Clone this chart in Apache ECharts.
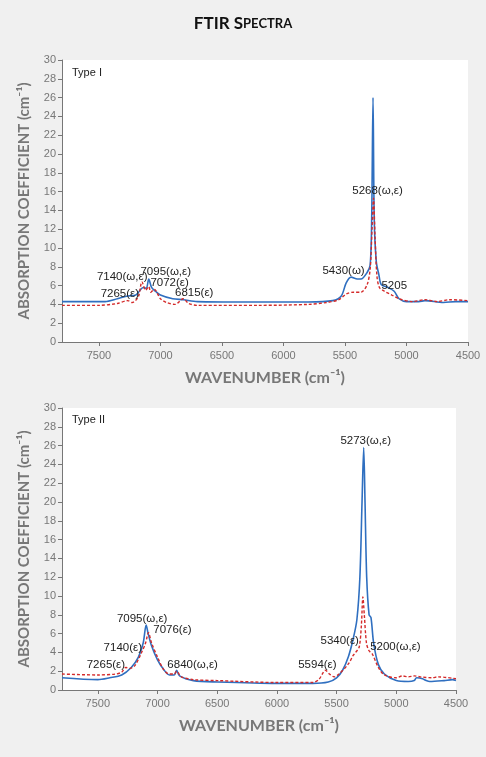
<!DOCTYPE html>
<html>
<head>
<meta charset="utf-8">
<script src="https://cdn.jsdelivr.net/npm/echarts@6/dist/echarts.min.js"></script>
<style>
  html, body { margin: 0; padding: 0; background: #f0f0f0; }
  #chart { width: 486px; height: 757px; }
</style>
</head>
<body>
<div id="chart"></div>
<script>
// Type I spectra [wavenumber, absorption]
const type1Blue = [[7800,4.3],[7450,4.3],[7350,4.6],[7265,4.9],[7200,5.0],[7160,5.6],[7140,5.8],[7115,5.7],[7095,6.7],[7072,5.8],[7040,5.4],[7000,5.0],[6900,4.6],[6815,4.5],[6700,4.3],[6300,4.25],[5800,4.25],[5600,4.4],[5530,4.9],[5490,6.3],[5450,6.9],[5400,6.7],[5370,6.7],[5320,7.4],[5295,8.2],[5283,13],[5272,26],[5262,13],[5245,8.5],[5225,7.2],[5205,6.1],[5150,5.8],[5100,5.4],[5060,4.6],[5000,4.3],[4900,4.3],[4850,4.4],[4700,4.2],[4600,4.3],[4500,4.3]];
const type1Red = [[7800,3.9],[7500,3.9],[7350,4.1],[7265,4.4],[7230,4.2],[7180,4.8],[7150,6.4],[7120,5.5],[7095,5.9],[7078,5.3],[7050,5.6],[7000,4.6],[6950,4.2],[6880,4.0],[6815,4.6],[6770,4.1],[6700,3.9],[6200,3.9],[5800,4.0],[5650,4.2],[5550,4.5],[5490,5.1],[5430,5.3],[5370,5.3],[5320,6.1],[5295,7.8],[5280,12],[5268,15.3],[5255,11],[5240,7],[5220,5.8],[5180,5.4],[5120,5.0],[5060,4.6],[4950,4.3],[4850,4.5],[4750,4.3],[4650,4.5],[4500,4.4]];
const type1Labels = [[7140,5.9,'7140(ω,ε)'],[7095,6.8,'7095(ω,ε)'],[7072,5.9,'7072(ε)'],[7265,4.6,'7265(ε)'],[6815,4.6,'6815(ε)'],[5430,6.9,'5430(ω)'],[5268,15.8,'5268(ω,ε)'],[5205,5.6,'5205']];

// Type II spectra
const type2Blue = [[7800,1.3],[7500,1.1],[7400,1.3],[7300,1.6],[7220,2.4],[7160,3.5],[7120,5.0],[7095,6.9],[7080,6.1],[7050,4.7],[7000,3.2],[6950,2.2],[6900,1.6],[6860,1.6],[6840,2.1],[6815,1.5],[6700,1.0],[6500,0.85],[6000,0.7],[5700,0.7],[5570,0.85],[5500,1.3],[5450,2.1],[5400,3.6],[5360,5.5],[5330,7.5],[5305,12],[5287,20],[5273,25.8],[5262,20],[5248,12],[5228,8],[5212,7.7],[5190,5],[5150,2.7],[5100,1.7],[5000,1.0],[4900,0.9],[4850,1.0],[4830,1.3],[4780,1.2],[4750,1.0],[4720,0.9],[4600,1.0],[4530,1.1],[4500,1.0]];
const type2Red = [[7800,1.7],[7500,1.6],[7350,1.7],[7300,1.9],[7265,2.4],[7230,2.3],[7190,2.6],[7140,3.8],[7100,5.0],[7076,6.1],[7050,5.0],[7000,3.5],[6950,2.2],[6900,1.7],[6860,1.7],[6840,2.0],[6800,1.4],[6700,1.1],[6500,1.0],[6000,0.8],[5700,0.8],[5650,1.1],[5610,1.9],[5594,2.1],[5560,1.7],[5520,1.4],[5480,1.7],[5400,2.8],[5360,3.7],[5340,4.0],[5310,4.6],[5292,7],[5280,9.9],[5268,8],[5250,5],[5230,4.2],[5200,3.8],[5150,2.4],[5100,1.6],[5000,1.3],[4950,1.5],[4900,1.4],[4850,1.5],[4800,1.4],[4700,1.3],[4650,1.4],[4500,1.2]];
const type2Labels = [[7095,7.2,'7095(ω,ε)'],[7076,6.0,'7076(ε)'],[7140,4.1,'7140(ε)'],[7265,2.4,'7265(ε)'],[6840,2.4,'6840(ω,ε)'],[5594,2.4,'5594(ε)'],[5340,4.6,'5340(ε)'],[5200,4.0,'5200(ω,ε)'],[5273,26.3,'5273(ω,ε)']];

const xTicks = [7500, 7000, 6500, 6000, 5500, 5000, 4500];

let chart = echarts.init(document.getElementById('chart'))

const grey = '#777'
const font = 'Liberation Sans'
// label offsets [dx, dy] per label, in px
const off1 = [[-21,2],[17,5],[18,8],[-8,7],[11,6],[-10,5],[4,9],[13,8]]
const off2 = [[-4,8],[24,8],[-18,8],[-20,9],[16,9],[-8,9],[-16,6],[23,6],[2,10]]

let xAxis = (i) => ({
    gridIndex: i, type: 'value', min: 4500, max: 7800, interval: 500, inverse: true,
    name: 'WAVENUMBER (cm⁻¹)', nameLocation: 'middle', nameGap: 28,
    nameTextStyle: {fontFamily: 'Lato', fontWeight: 'bold', fontSize: 16, color: grey},
    axisLine: {lineStyle: {color: grey}}, axisTick: {show: true, length: 4, lineStyle: {color: grey}},
    axisLabel: {color: grey, fontSize: 11, fontFamily: font, showMaxLabel: false,
        formatter: v => xTicks.includes(v) ? v : ''},
    splitLine: {show: false}
})
let yAxis = (i) => ({
    gridIndex: i, type: 'value', min: 0, max: 30, interval: 2,
    name: 'ABSORPTION COEFFICIENT (cm⁻¹)', nameLocation: 'middle', nameGap: 30,
    nameTextStyle: {fontFamily: 'Lato', fontWeight: 'bold', fontSize: 15, color: grey},
    axisLine: {show: true, lineStyle: {color: grey}}, axisTick: {show: true, length: 4, lineStyle: {color: grey}},
    axisLabel: {color: grey, fontSize: 11, fontFamily: font, margin: 6},
    splitLine: {show: false}
})
let marks = (labels, offs) => ({
    symbol: 'circle', symbolSize: 1, silent: true,
    itemStyle: {color: 'rgba(0,0,0,0)'},
    label: {show: true, position: 'top', color: '#222', fontSize: 11.5, fontFamily: font},
    data: labels.map((l, k) => ({
        coord: [l[0], l[1]], value: l[2],
        label: {formatter: l[2], offset: offs[k]}
    }))
})
let line = (data, i, color, dashed, m) => ({
    type: 'line', xAxisIndex: i, yAxisIndex: i, data: data, showSymbol: false, smooth: 0.3,
    lineStyle: {color: color, width: dashed ? 1.4 : 1.6, type: dashed ? [3, 2] : 'solid'},
    markPoint: m, z: dashed ? 3 : 2
})

chart.setOption({
    backgroundColor: '#f0f0f0',
    animation: false,
    title: {
        text: '{a|FTIR S}{b|PECTRA}', left: 'center', top: 10,
        textStyle: {rich: {a: {fontFamily: 'Lato', fontWeight: 'bold', fontSize: 17, color: '#111'},
            b: {fontFamily: 'Lato', fontWeight: 'bold', fontSize: 13, color: '#111'}}}
    },
    grid: [
        {left: 62, top: 60, right: 18, height: 282, backgroundColor: '#fff', show: true, borderWidth: 0},
        {left: 62, top: 408, right: 30, height: 282, backgroundColor: '#fff', show: true, borderWidth: 0}
    ],
    xAxis: [xAxis(0), xAxis(1)],
    yAxis: [yAxis(0), yAxis(1)],
    graphic: [
        {type: 'text', left: 72, top: 67, style: {text: 'Type I', fontSize: 11, fontFamily: font, fill: '#222'}},
        {type: 'text', left: 72, top: 414, style: {text: 'Type II', fontSize: 11, fontFamily: font, fill: '#222'}}
    ],
    series: [
        line(type1Blue, 0, '#2f6fc0', false, marks(type1Labels, off1)),
        line(type1Red, 0, '#d42a2a', true),
        line(type2Blue, 1, '#2f6fc0', false, marks(type2Labels, off2)),
        line(type2Red, 1, '#d42a2a', true)
    ]
})
</script>
</body>
</html>
